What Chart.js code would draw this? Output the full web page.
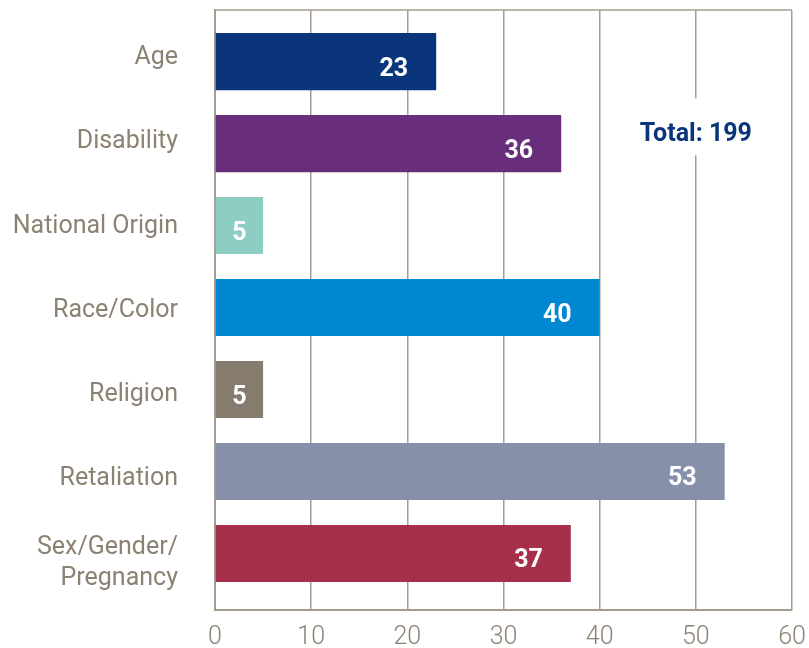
<!DOCTYPE html>
<html>
<head>
<meta charset="utf-8">
<script src="https://cdn.jsdelivr.net/npm/chart.js@4.4.1/dist/chart.umd.min.js"></script>
<style>
  html, body { margin: 0; padding: 0; background: #ffffff; }
  #wrap { width: 809px; height: 648px; }
</style>
</head>
<body>
<div id="wrap"><canvas id="complaintChart"></canvas></div>
<script>
// chart values
const categories = ['Age', 'Disability', 'National Origin', 'Race/Color', 'Religion', 'Retaliation', ['Sex/Gender/', 'Pregnancy']];
const counts = [23, 36, 5, 40, 5, 53, 37];
const barColors = ['#0a357a', '#682e7b', '#8ecdc1', '#0087d1', '#857c6d', '#8691a9', '#a6304b'];
const xTickValues = [0, 10, 20, 30, 40, 50, 60];
const totalText = 'Total: 199';

const lineColor = '#a49c8f';
const labelColor = '#8b8273';

function indexTicks() {
	return categories.map(function (c, i) { return { value: i }; });
}

// total box + top frame line + value labels
const extras = {
	id: 'extras',
	beforeDatasetsDraw(chart) {
		const a = chart.chartArea;
		const c = chart.ctx;
		c.save();
		c.strokeStyle = lineColor;
		c.lineWidth = 1.5;
		c.beginPath();
		c.moveTo(a.left, a.top);
		c.lineTo(a.right, a.top);
		c.stroke();
		c.restore();
	},
	afterDatasetsDraw(chart) {
		const c = chart.ctx;
		const meta = chart.getDatasetMeta(0);
		c.save();
		c.font = 'bold 25px Roboto';
		c.fillStyle = '#ffffff';
		c.textAlign = 'center';
		c.textBaseline = 'alphabetic';
		meta.data.forEach(function (bar, i) {
			const txt = String(counts[i]);
			const w = c.measureText(txt).width;
			let x = bar.x - 28 - w / 2;
			if (w + 38 > bar.x - bar.base) {
				x = (bar.x + bar.base) / 2;
			}
			c.fillText(txt, x, bar.y + 14);
		});

		// total label
		const tx = chart.scales.x.getPixelForValue(50);
		const ty = chart.scales.yb.getPixelForValue(0.85);
		c.font = 'bold 25px Roboto';
		const tw = c.measureText(totalText).width;
		c.fillStyle = '#ffffff';
		c.fillRect(tx - tw / 2 - 8, ty - 33, tw + 16, 57);
		c.fillStyle = '#0a357a';
		c.fillText(totalText, tx, ty + 10);
		c.restore();
	}
};

const ctx = document.getElementById('complaintChart').getContext('2d');

const chart = new Chart(ctx, {
	type: 'bar',
	data: {
		datasets: [{
			data: counts.map(function (v, i) { return { x: v, y: i }; }),
			backgroundColor: barColors,
			borderWidth: 0,
			yAxisID: 'yb',
			barPercentage: 0.87,
			categoryPercentage: 0.8
		}]
	},
	options: {
		indexAxis: 'y',
		responsive: true,
		maintainAspectRatio: false,
		animation: false,
		layout: { padding: { top: 10, right: 17, left: 0, bottom: 0 } },
		plugins: {
			legend: { display: false },
			tooltip: { enabled: false }
		},
		scales: {
			x: {
				type: 'linear',
				min: 0,
				max: 60,
				afterBuildTicks(scale) {
					scale.ticks = xTickValues.map(function (v) { return { value: v }; });
				},
				grid: { color: lineColor, lineWidth: 1.5, drawTicks: false },
				border: { display: true, color: lineColor, width: 2 },
				ticks: {
					color: labelColor,
					font: { family: 'Roboto', size: 25, weight: '300' },
					padding: 13
				},
				afterFit(scale) {
					scale.height = 38;
					scale.paddingLeft = 0;
					scale.paddingRight = 0;
				}
			},
			// label axis (category names)
			y: {
				type: 'linear',
				position: 'left',
				reverse: true,
				bounds: 'data',
				offset: false,
				min: -0.57,
				max: 6.556,
				afterBuildTicks(scale) { scale.ticks = indexTicks(); },
				grid: { display: false, drawTicks: false, offset: false },
				border: { display: true, color: lineColor, width: 2 },
				ticks: {
					color: labelColor,
					font: { family: 'Roboto', size: 25, lineHeight: 1.25 },
					padding: 37,
					autoSkip: false,
					callback: function (value) { return categories[value]; }
				},
				afterFit(scale) {
					scale.width = 215;
					scale.paddingTop = 0;
					scale.paddingBottom = 0;
				}
			},
			// bar axis (hidden)
			yb: {
				type: 'linear',
				axis: 'y',
				display: false,
				reverse: true,
				bounds: 'data',
				offset: false,
				min: -0.63,
				max: 6.69,
				afterBuildTicks(scale) { scale.ticks = indexTicks(); }
			}
		}
	},
	plugins: [extras]
});
</script>
</body>
</html>
